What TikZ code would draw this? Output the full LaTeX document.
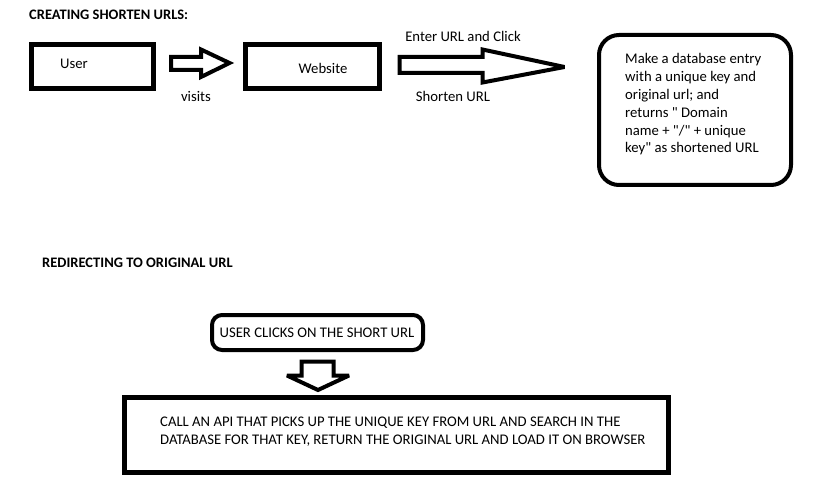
\documentclass[tikz,border=0pt]{standalone}
\usepackage{fontspec}
\setmainfont{Carlito}[Ligatures=TeXOff]
\begin{document}
\begin{tikzpicture}[x=1pt,y=-1pt,
  txt/.style={inner sep=0pt, font=\fontsize{14.7}{17.8}\selectfont},
  ttl/.style={inner sep=0pt, anchor=west, font=\fontsize{14.5}{16}\selectfont\bfseries},
  box/.style={draw, line width=4.5pt, inner sep=0pt},
  blk/.style={draw, line width=4pt, line join=miter, miter limit=3}]
\useasboundingbox (0,0) rectangle (828,500);
% titles
\node[ttl] (t1) at (29,15) {CREATING SHORTEN URLS:};
\node[ttl] (t2) at (42,263) {REDIRECTING TO ORIGINAL URL};
% boxes
\node[box, minimum width=122pt, minimum height=44pt] (user) at (92.5,66.5) {};
\node[txt] (userl) at (74,64) {User};
\node[box, minimum width=134pt, minimum height=44pt] (web) at (312.5,66.5) {};
\node[txt] (webl) at (323,68) {Website};
\node[box, line width=4pt, rounded corners=20pt, minimum width=192pt, minimum height=150pt] (db) at (695,110) {};
\node[txt, anchor=west, align=left] (dbl) at (625,104.5) {Make a database entry\\with a unique key and\\original url; and\\returns " Domain\\name + "/" + unique\\key" as shortened URL};
% arrows
\draw[blk] (171,57) -- (201,57) -- (201,49.5) -- (229.5,63) -- (201,77) -- (201,70) -- (171,70) -- cycle;
\node[txt] (visits) at (196,96) {visits};
\draw[blk] (399.5,57) -- (482.5,57) -- (482.5,49.5) -- (564.5,67) -- (482.5,82.5) -- (482.5,73) -- (399.5,73) -- cycle;
\node[txt] (enter) at (463,36) {Enter URL and Click};
\node[txt] (short) at (453,96) {Shorten URL};
% bottom
\node[box, line width=4pt, rounded corners=10pt, minimum width=211pt, minimum height=35pt] (click) at (317.5,332.5) {};
\node[txt] (clickl) at (317,333) {USER CLICKS ON THE SHORT URL};
\draw[blk] (301.5,361.5) -- (333.5,361.5) -- (333.5,375.5) -- (349,375.5) -- (318,390) -- (287,375.5) -- (301.5,375.5) -- cycle;
\node[box, minimum width=544pt, minimum height=75pt] (api) at (396.5,435) {};
\node[txt, anchor=west, align=left] (apil) at (160,432) {CALL AN API THAT PICKS UP THE UNIQUE KEY FROM URL AND SEARCH IN THE\\DATABASE FOR THAT KEY, RETURN THE ORIGINAL URL AND LOAD IT ON BROWSER};
\end{tikzpicture}
\end{document}
